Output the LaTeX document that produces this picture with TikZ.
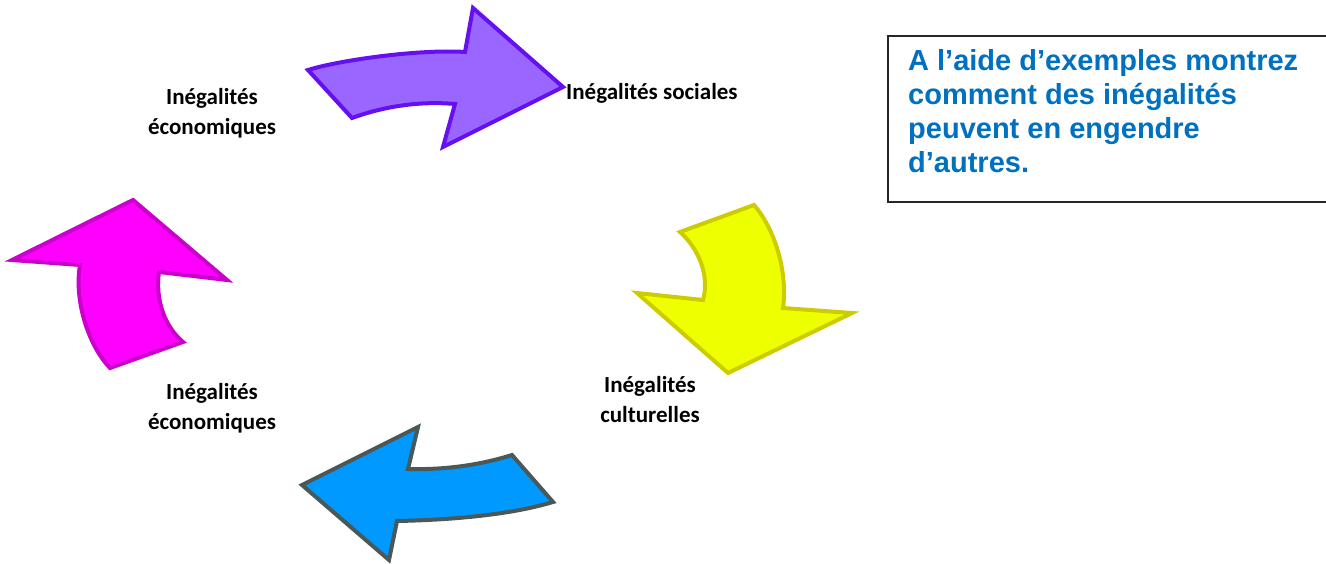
\documentclass[tikz,border=0pt]{standalone}
\usepackage{fontspec}
\newfontfamily\labelfont{Carlito}
\newfontfamily\questionfont{Liberation Sans}
\definecolor{purplefill}{HTML}{9966FF}
\definecolor{purpledraw}{HTML}{6610F2}
\definecolor{yellowfill}{HTML}{EEFF00}
\definecolor{yellowdraw}{HTML}{CCCC00}
\definecolor{bluefill}{HTML}{0099FF}
\definecolor{bluedraw}{HTML}{4A5858}
\definecolor{magentafill}{HTML}{FF00FF}
\definecolor{magentadraw}{HTML}{CC00CC}
\definecolor{questionblue}{HTML}{0070C0}
\tikzstyle{textlabel} = [inner sep=0pt, align=center, font=\labelfont\bfseries\fontsize{23pt}{30pt}\selectfont]
\tikzstyle{questionbox} = [rectangle, draw=black!85, line width=2pt, anchor=north west, minimum width=460pt, minimum height=166pt]
\tikzstyle{questiontext} = [inner sep=0pt, align=left, anchor=base west, text=questionblue, font=\questionfont\bfseries\fontsize{29pt}{34pt}\selectfont]
\tikzstyle{bigarrow} = [line width=4pt, miter limit=4]

\begin{document}
\begin{tikzpicture}[x=1pt, y=-1pt]

  \useasboundingbox (0,0) rectangle (1326,564);
  \clip (0,0) rectangle (1326,564);

  % We start by drawing the four curved arrows
  \draw [bigarrow, draw=purpledraw, fill=purplefill] (308,70) .. controls (340,60) and (420,49) .. (465,52) -- (473,8) -- (563,87) -- (443,147) -- (455,104) .. controls (420,101) and (385,106) .. (352,118) -- cycle;
  \draw [bigarrow, draw=yellowdraw, fill=yellowfill] (680,232) -- (754,205) .. controls (774,228) and (788,270) .. (783,308) -- (852,313) -- (728,373) -- (637,293) -- (703,300) .. controls (710,275) and (698,248) .. (680,232) -- cycle;
  \draw [bigarrow, draw=bluedraw, fill=bluefill] (512,455) -- (553,502) .. controls (510,515) and (450,520) .. (397,521) -- (389,560) -- (302,485) -- (418,427) -- (408,469) .. controls (445,470) and (480,465) .. (512,455) -- cycle;
  \draw [bigarrow, draw=magentadraw, fill=magentafill] (110,368) -- (183,342) .. controls (165,327) and (155,300) .. (159,272) -- (227,280) -- (133,200) -- (12,260) -- (80,265) .. controls (74,300) and (88,345) .. (110,368) -- cycle;

  % Then the labels (base is the last line)
  \node (ecotop) [textlabel, anchor=base] at (212,135) {Inégalités\\économiques};
  \node (sociales) [textlabel, anchor=base west] at (566,100) {Inégalités sociales};
  \node (culture) [textlabel, anchor=base] at (650,422) {Inégalités\\culturelles};
  \node (ecobottom) [textlabel, anchor=base] at (212,429) {Inégalités\\économiques};

  % And the question box
  \node (question) [questionbox] at (887,35) {};
  \node (questiontxt) [questiontext] at (908,173) {A l’aide d’exemples montrez\\comment des inégalités\\peuvent en engendre\\d’autres.};

\end{tikzpicture}
\end{document}
